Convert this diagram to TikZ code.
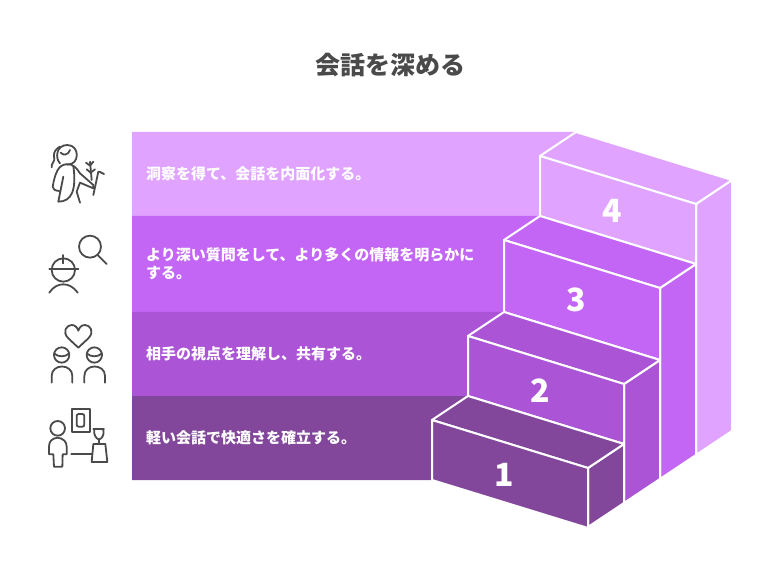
\documentclass[tikz,border=0pt]{standalone}
\usepackage{fontspec}
\setmainfont{Noto Sans CJK JP}
\usetikzlibrary{positioning}
\definecolor{bandone}{HTML}{82479B}
\definecolor{bandtwo}{HTML}{AB55D6}
\definecolor{bandthree}{HTML}{C466F5}
\definecolor{bandfour}{HTML}{E0A3FF}
\definecolor{inkgray}{HTML}{4A4A4A}
\tikzset{
  x=1pt,
  y=-1pt,
  title/.style={text=inkgray, font=\fontsize{25}{28}\selectfont\bfseries},
  bandtext/.style={anchor=west, inner sep=0pt, align=left, text=white, font=\fontsize{15}{18}\selectfont\bfseries},
  stepnum/.style={text=white, inner sep=0pt, font=\fontsize{32}{32}\selectfont\bfseries},
  stepface/.style={draw=white, line width=2pt, line join=round},
  icon/.style={draw=inkgray, line width=1.8pt, line cap=round, line join=round, xscale=1/3, yscale=1/3},
}
\begin{document}
\begin{tikzpicture}
  \useasboundingbox (0,0) rectangle (780,588);

  \node[title] (heading) at (390,65) {会話を深める};

  \fill[bandfour]  (132,132) -- (576,132) -- (540,156) -- (540,216) -- (132,216) -- cycle;
  \fill[bandthree] (132,216) -- (540,216) -- (504,240) -- (504,312) -- (132,312) -- cycle;
  \fill[bandtwo]   (132,312) -- (504,312) -- (468,336) -- (468,396) -- (132,396) -- cycle;
  \fill[bandone]   (132,396) -- (468,396) -- (432,420) -- (432,480) -- (132,480) -- cycle;

  \foreach \x/\t/\h/\b/\c in {540/156/60/455/bandfour, 504/240/72/479/bandthree, 468/336/60/503/bandtwo, 432/420/60/527/bandone} {
    \filldraw[stepface, fill=\c] (\x+156,\t+48) -- (\x+192,\t+24) -- (\x+192,\b-24) -- (\x+156,\b) -- cycle;
    \filldraw[stepface, fill=\c] (\x,\t) -- (\x+36,\t-24) -- (\x+192,\t+24) -- (\x+156,\t+48) -- cycle;
    \filldraw[stepface, fill=\c] (\x,\t) -- (\x+156,\t+48) -- (\x+156,\t+48+\h) -- (\x,\t+\h) -- cycle;
  }

  \node[stepnum] (num4) at (612,211) {4};
  \node[stepnum] (num3) at (576,300) {3};
  \node[stepnum] (num2) at (540,391) {2};
  \node[stepnum] (num1) at (504,475) {1};

  \node[bandtext] (text4) at (146,173.5) {洞察を得て、会話を内面化する。};
  \node[bandtext] (text3) at (146,263.5) {より深い質問をして、より多くの情報を明らかに\\する。};
  \node[bandtext] (text2) at (146,353.5) {相手の視点を理解し、共有する。};
  \node[bandtext] (text1) at (146,437.5) {軽い会話で快適さを確立する。};

  \begin{scope}[shift={(30,130)}, icon]
    \draw (90,100) .. controls (75,85) and (78,45) .. (112,45) .. controls (150,45) and (150,105) .. (112,104);
    \draw (65,112) .. controls (62,100) and (78,95) .. (72,78) .. controls (70,65) and (80,55) .. (90,50);
    \draw (92,68) .. controls (100,78) and (115,75) .. (120,60);
    \draw (108,103) .. controls (85,105) and (75,130) .. (68,170) .. controls (68,178) and (75,182) .. (88,183);
    \draw (100,140) -- (85,215) .. controls (125,215) and (140,180) .. (130,108);
    \draw (108,103) .. controls (130,100) and (140,115) .. (150,130) -- (190,165) -- (190,175) -- (150,158) -- (140,185) -- (150,218);
    \draw (205,125) -- (190,195);
    \draw (180,95) -- (185,150);
    \draw (168,98) -- (180,107) -- (190,95);
    \draw (170,118) -- (182,128) -- (195,118);
    \draw (208,125) -- (222,132);
    \draw (180,350) circle (33);
    \draw (203,375) -- (230,402);
    \draw (100,420) circle (35);
    \draw (58,418) -- (145,418);
    \draw (100,375) -- (100,400);
    \draw (58,488) .. controls (70,470) and (85,463) .. (100,463) .. controls (115,463) and (130,470) .. (143,488);
  \end{scope}

  \begin{scope}[shift={(30,310)}, icon]
    \draw (145,113) -- (115,85) .. controls (95,65) and (110,45) .. (125,45) .. controls (135,45) and (142,52) .. (145,62) .. controls (148,52) and (155,45) .. (165,45) .. controls (180,45) and (195,65) .. (175,85) -- cycle;
    \foreach \p in {95,193} {
      \draw (\p,135) circle (23);
      \draw (\p-23,130) .. controls (\p-10,142) and (\p+10,142) .. (\p+23,130);
      \draw (\p-30,218) -- (\p-30,198) .. controls (\p-30,160) and (\p+32,160) .. (\p+32,198) -- (\p+32,218);
    }
    \draw (125,297) rectangle (179,365);
    \draw[rounded corners=2pt] (140,312) rectangle (163,350);
    \draw (83,355) circle (22);
    \draw (83,383) .. controls (65,385) and (57,395) .. (57,410) -- (57,433) -- (70,433) -- (72,470) -- (97,470) -- (98,433) -- (110,433) -- (110,410) .. controls (110,395) and (100,385) .. (83,383);
    \draw (124,432) -- (185,432);
    \draw (190,402) -- (226,402) -- (232,456) -- (185,456) -- cycle;
    \draw (190,357) -- (222,357);
    \draw (193,360) .. controls (190,375) and (200,388) .. (207,388) .. controls (214,388) and (224,375) .. (220,360);
    \draw (207,388) -- (207,402);
  \end{scope}
\end{tikzpicture}
\end{document}
